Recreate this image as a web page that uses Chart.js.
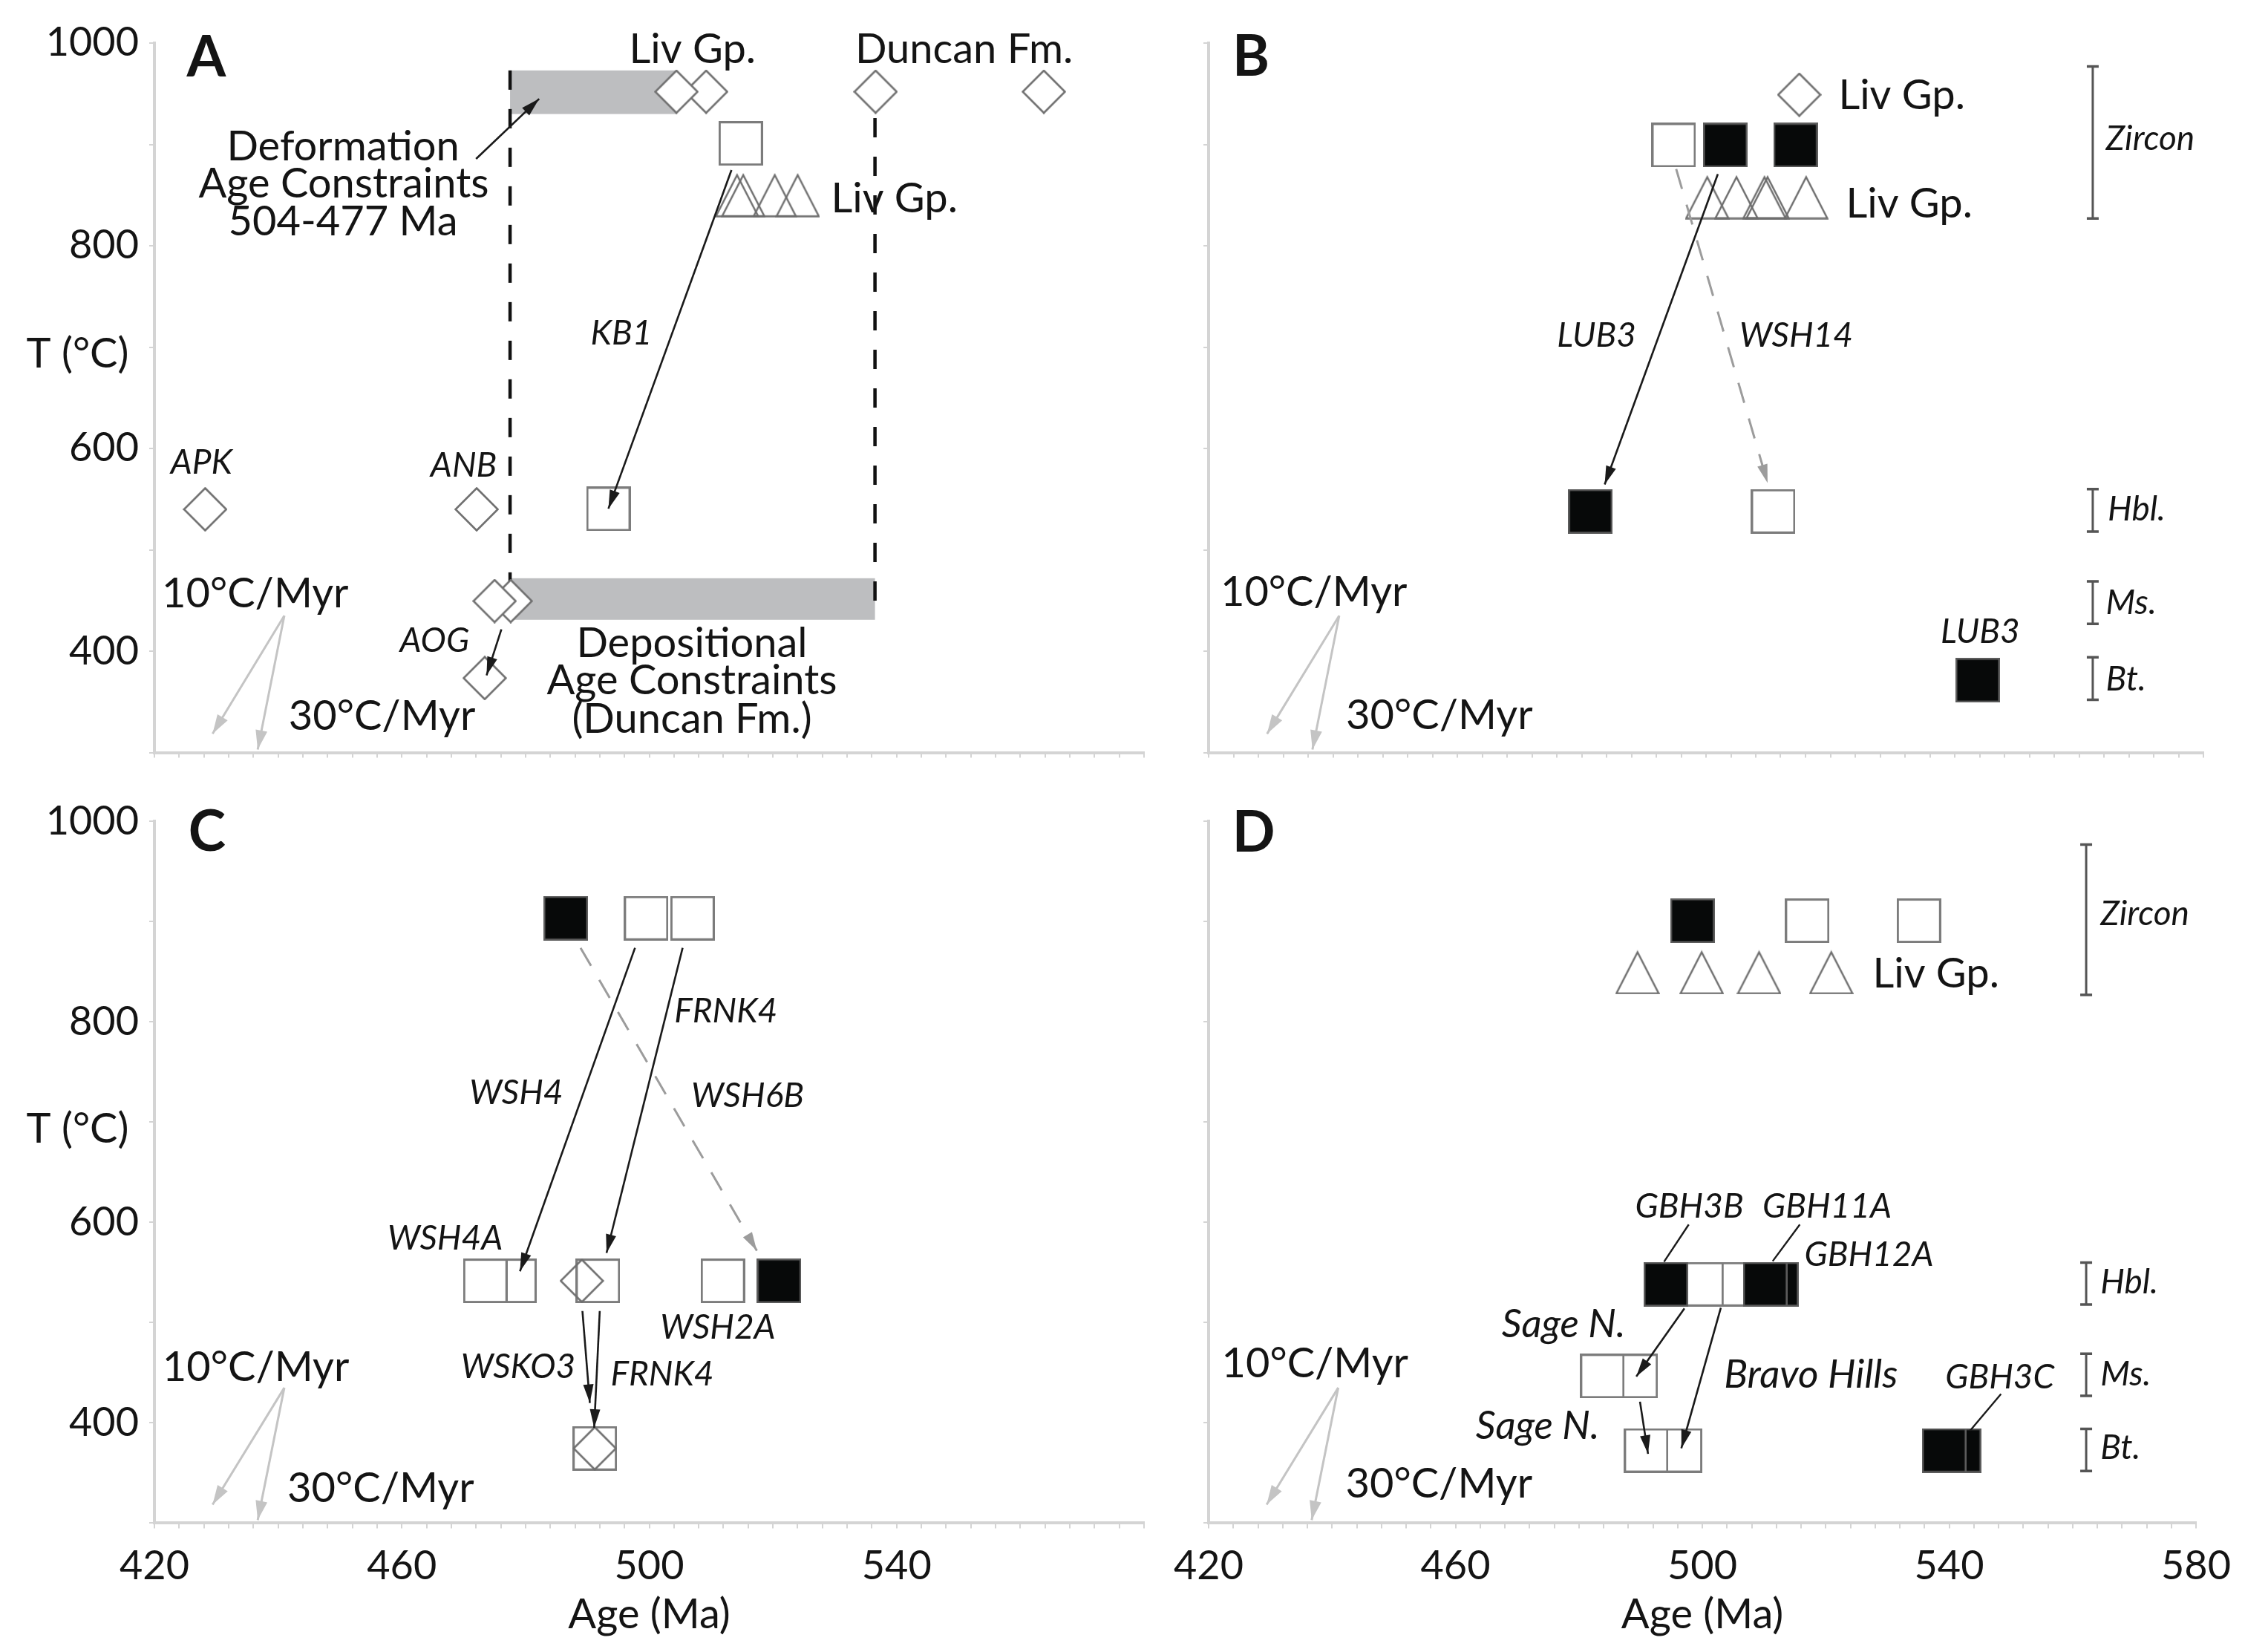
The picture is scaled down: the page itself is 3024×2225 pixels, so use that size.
<!DOCTYPE html>
<html><head><meta charset="utf-8">
<script src="https://cdn.jsdelivr.net/npm/chart.js@4.4.1/dist/chart.umd.min.js"></script>
<style>
html,body{margin:0;padding:0;background:#fff;width:3024px;height:2225px;overflow:hidden}
canvas{position:absolute}
</style></head><body>
<canvas id="cA" width="1560" height="1060" style="left:0;top:0"></canvas>
<canvas id="cB" width="1464" height="1060" style="left:1560px;top:0"></canvas>
<canvas id="cC" width="1560" height="1165" style="left:0;top:1060px"></canvas>
<canvas id="cD" width="1464" height="1165" style="left:1560px;top:1060px"></canvas>
<script>
// ---------------- axes ----------------
const X_MIN = 420, X_MAX = 580, Y_MIN = 300, Y_MAX = 1000;
const xTickStep = 4, yTickStep = 100;
const xLabelValues = [420, 460, 500, 540, 580];
const xLabelValuesC = [420, 460, 500, 540];
const yLabelValues = [1000, 800, 600, 400];

// ---------------- shared: cooling-rate reference arrows ----------------
const coolOrigin = [441, 435];
const cool10End = [429.4, 318.5];
const cool30End = [436.7, 303];

// ---------------- mineral closure ranges (B, D) ----------------
const rangeX = 562.2;
const zirconRange = [827, 977];
const hblRange = [518, 560];
const msRange = [427, 469];
const btRange = [352, 394];

// ---------------- Panel A ----------------
const aDiamonds = [[509.2, 952], [504.4, 952], [536.6, 952], [563.8, 952], [428.2, 540], [472.1, 540], [477.6, 449.5], [475.0, 449.5], [473.4, 373.5]];
const aOpenSquares = [[514.8, 901], [493.4, 540.4]];
const aTriangles = [[514.2, 850], [515.2, 850], [520.3, 850], [524.0, 850]];
const aKB1Path = [[513.3, 874.7], [493.4, 540.6]];
const aAOGPath = [[476.1, 421.6], [473.7, 376.2]];
const aDeformPointer = [[472.0, 885.7], [482.2, 945]];
const aDeformBand = [477.5, 504.4, 930, 973];
const aDepositBand = [477.5, 536.5, 431, 472];
const aDeformLine = [[477.5, 973], [477.5, 431]];
const aDepositLine = [[536.5, 926], [536.5, 431]];

// ---------------- Panel B ----------------
const bDiamonds = [[515.0, 949]];
const bOpenSquares = [[494.8, 899.3], [510.8, 538]];
const bFilledSquares = [[503.1, 899.3], [514.4, 899.3], [481.4, 538], [543.7, 371.4]];
const bTriangles = [[500.2, 848], [504.9, 848], [509.4, 848], [509.9, 848], [516.1, 848]];
const bLUB3Path = [[501.9, 870.7], [483.7, 564.5]];
const bWSH14Path = [[495.2, 875.8], [509.9, 566]];

// ---------------- Panel C ----------------
const cOpenSquares = [[499.5, 903.5], [507.0, 903.5], [478.2, 541.7], [473.5, 541.7], [491.7, 541.7], [511.9, 541.7], [491.2, 374.6]];
const cFilledSquares = [[486.5, 903.5], [521.0, 541.7]];
const cDiamonds = [[489.1, 541.7], [491.2, 374.6]];
const cWSH4Path = [[497.7, 873.9], [479.1, 551.2]];
const cFRNK4Path = [[505.4, 873.9], [493.1, 569.6]];
const cWSH6BPath = [[488.9, 873.9], [517.4, 571.8]];
const cWSKO3Path = [[489.2, 511.6], [490.4, 419.9]];
const cFRNK4LowPath = [[492.0, 511.6], [491.1, 395.1]];

// ---------------- Panel D ----------------
const dOpenSquares = [[517.0, 901], [535.1, 901], [500.9, 538.3], [506.7, 538.3], [489.2, 446.7], [483.8, 446.7], [496.4, 372.5], [490.9, 372.5]];
const dFilledSquares = [[498.4, 901], [494.1, 538.3], [512.0, 538.3], [510.2, 538.3], [541.6, 372.5], [539.2, 372.5]];
const dTriangles = [[489.5, 849.6], [499.9, 849.6], [509.2, 849.6], [520.9, 849.6]];
const dSageHblMsPath = [[497.1, 514.2], [489.3, 446.3]];
const dBravoHillsPath = [[503.0, 514.8], [496.6, 374.6]];
const dSageMsBtPath = [[489.9, 421.1], [491.2, 369.1]];
const dGBH3BLeader = [[497.8, 597.9], [493.8, 560.8]];
const dGBH11ALeader = [[515.8, 597.9], [511.4, 561.3]];
const dGBH3CLeader = [[548.4, 428.8], [543.4, 392.4]];

// ---------------- text annotations [text, age, T] ----------------
const aLetter = [['A', 428.4, 967]];
const aNotesCenter = [['Liv Gp.', 507.0, 980.5], ['Duncan Fm.', 550.9, 980.5], ['Deformation', 450.5, 884.6], ['Age Constraints', 450.6, 848], ['504-477 Ma', 450.5, 810.3], ['Depositional', 506.9, 394], ['Age Constraints', 506.9, 357.5], ['(Duncan Fm.)', 506.9, 319.8]];
const aNotesLeft = [['Liv Gp.', 529.4, 833], ['10°C/Myr', 421.2, 443.4], ['30°C/Myr', 441.7, 322.2], ['T (°C)', 399.3, 680]];
const aSamples = [['KB1', 495.5, 702.9], ['APK', 427.6, 574.8], ['ANB', 470.0, 572], ['AOG', 465.3, 399.2]];

const bLetter = [['B', 426.8, 968]];
const bNotesLeft = [['Liv Gp.', 521.3, 935.1], ['Liv Gp.', 522.5, 827.9], ['10°C/Myr', 421.9, 444.6], ['30°C/Myr', 442.1, 323.5]];
const bSamples = [['LUB3', 482.4, 700.4], ['WSH14', 514.5, 700.5], ['LUB3', 544.1, 408]];
const bMinerals = [['Zircon', 564.3, 894.7], ['Hbl.', 564.6, 529.2], ['Ms.', 564.3, 437], ['Bt.', 564.3, 361.4]];

const cLetter = [['C', 428.5, 970.7]];
const cNotesLeft = [['10°C/Myr', 421.3, 441.7], ['30°C/Myr', 441.5, 321.2], ['T (°C)', 399.3, 679.3]];
const cSamples = [['FRNK4', 512.4, 799.5], ['WSH4', 478.5, 718.3], ['WSH6B', 515.9, 715.4], ['WSH4A', 467.0, 573.1], ['WSH2A', 511.1, 484.2], ['WSKO3', 478.8, 444.4], ['FRNK4', 502.1, 437.6]];

const dLetter = [['D', 427.3, 970]];
const dNotesLeft = [['Liv Gp.', 527.6, 834.3], ['10°C/Myr', 422.1, 445.8], ['30°C/Myr', 442.2, 325.3]];
const dSamples = [['GBH3B', 497.9, 605], ['GBH11A', 520.2, 605], ['GBH12A', 527.0, 556.7], ['GBH3C', 548.2, 434.3]];
const dLocalities = [['Sage N.', 477.5, 485.5], ['Bravo Hills', 517.6, 434.8], ['Sage N.', 473.3, 384.2]];
const dMinerals = [['Zircon', 564.5, 896.8], ['Hbl.', 564.5, 529.3], ['Ms.', 564.5, 437.6], ['Bt.', 564.5, 363.7]];

// ================= rendering =================
const FONT = 'Lato, "Open Sans", sans-serif';
const F_BIG = '56px ' + FONT;
const F_ITAL = 'italic 46px ' + FONT;
const F_ITAL_BIG = 'italic 53px ' + FONT;
const F_LETTER = 'bold 76px ' + FONT;
const INK = '#141414';

function makeMarker(kind) {
  const S = 60;
  const c = document.createElement('canvas');
  c.width = S; c.height = S;
  const g = c.getContext('2d');
  if (kind === 'sqOpen') {
    g.fillStyle = '#fff'; g.fillRect(1.5, 1.5, S - 3, S - 3);
    g.strokeStyle = '#7c7c7c'; g.lineWidth = 3; g.strokeRect(1.5, 1.5, S - 3, S - 3);
  } else if (kind === 'sqFill') {
    g.fillStyle = '#070909'; g.fillRect(1, 1, S - 2, S - 2);
    g.strokeStyle = '#5c5c5c'; g.lineWidth = 2.5; g.strokeRect(1.25, 1.25, S - 2.5, S - 2.5);
  } else if (kind === 'diamond' || kind === 'diamondClear') {
    g.beginPath(); g.moveTo(S / 2, 1.5); g.lineTo(S - 1.5, S / 2); g.lineTo(S / 2, S - 1.5); g.lineTo(1.5, S / 2); g.closePath();
    if (kind === 'diamond') { g.fillStyle = '#fff'; g.fill(); }
    g.strokeStyle = '#6e6e6e'; g.lineWidth = 2.6; g.stroke();
  } else if (kind === 'tri') {
    g.beginPath(); g.moveTo(S / 2, 3); g.lineTo(S - 1.5, S - 1.5); g.lineTo(1.5, S - 1.5); g.closePath();
    g.strokeStyle = '#6e6e6e'; g.lineWidth = 2.5; g.stroke();
  }
  return c;
}

function pts(arr) { return arr.map(([x, y]) => ({x, y})); }
function markers(arr, img) {
  return {data: pts(arr), pointStyle: img, pointRadius: 12, pointHoverRadius: 12, showLine: false};
}
function path(arr, color, width, dash, head) {
  return {data: pts(arr), showLine: true, borderColor: color, borderWidth: width, borderDash: dash || [],
    pointRadius: 0, pointHoverRadius: 0, fill: false, tension: 0, arrow: head || null};
}
function rangeBar(r) {
  return {data: pts([[rangeX, r[1]], [rangeX, r[0]]]), showLine: true, borderColor: '#555', borderWidth: 3,
    pointStyle: 'line', pointRadius: 8, pointBorderWidth: 3.5, pointBorderColor: '#555', pointHoverRadius: 8};
}
const BLACK_HEAD = {len: 25, half: 7};
const GRAY_HEAD = {len: 26, half: 8};
function coolArrows() {
  return [
    path([coolOrigin, cool10End], '#c4c4c4', 3, null, GRAY_HEAD),
    path([coolOrigin, cool30End], '#c4c4c4', 3, null, GRAY_HEAD)
  ];
}

function annotPlugin(cfg) {
  return {
    id: 'annot',
    beforeDatasetsDraw(chart) {
      const {ctx, scales: {x, y}} = chart;
      ctx.save();
      ctx.fillStyle = '#bdbec0';
      (cfg.bands || []).forEach(b => {
        const x0 = x.getPixelForValue(b[0]), x1 = x.getPixelForValue(b[1]);
        const y0 = y.getPixelForValue(b[3]), y1 = y.getPixelForValue(b[2]);
        ctx.fillRect(x0, y0, x1 - x0, y1 - y0);
      });
      ctx.restore();
    },
    afterDatasetsDraw(chart) {
      const {ctx, scales: {x, y}} = chart;
      chart.data.datasets.forEach((ds, i) => {
        if (!ds.arrow) return;
        const meta = chart.getDatasetMeta(i);
        const n = meta.data.length;
        const p0 = meta.data[n - 2], p1 = meta.data[n - 1];
        const a = Math.atan2(p1.y - p0.y, p1.x - p0.x);
        const L = ds.arrow.len, W = ds.arrow.half;
        const bx = p1.x - L * Math.cos(a), by = p1.y - L * Math.sin(a);
        ctx.save();
        ctx.fillStyle = ds.borderColor;
        ctx.beginPath();
        ctx.moveTo(p1.x, p1.y);
        ctx.lineTo(bx + W * Math.sin(a), by - W * Math.cos(a));
        ctx.lineTo(bx - W * Math.sin(a), by + W * Math.cos(a));
        ctx.closePath(); ctx.fill();
        ctx.restore();
      });
      (cfg.text || []).forEach(grp => {
        ctx.save();
        ctx.font = grp.font; ctx.fillStyle = INK; ctx.textAlign = grp.align; ctx.textBaseline = 'alphabetic';
        grp.items.forEach(([t, vx, vy]) => ctx.fillText(t, x.getPixelForValue(vx), y.getPixelForValue(vy)));
        ctx.restore();
      });
    }
  };
}

function buildChart(id, cfg) {
  const layers = cfg.layers;
  layers.forEach((d, i) => { d.order = layers.length - i; });
  const gridOpt = {drawOnChartArea: false, drawTicks: true, tickLength: 7, color: '#d4d4d4', lineWidth: 2};
  const borderOpt = {display: true, color: '#d4d4d4', width: 4};
  const tickFont = {family: FONT, size: 54};
  return new Chart(document.getElementById(id), {
    type: 'scatter',
    data: {datasets: layers},
    options: {
      responsive: false, animation: false, devicePixelRatio: 1, events: [],
      layout: {autoPadding: false, padding: cfg.pad},
      plugins: {legend: {display: false}, tooltip: {enabled: false}},
      scales: {
        x: {
          type: 'linear', min: X_MIN, max: X_MAX,
          afterFit: s => { s.height = cfg.xh; },
          ticks: {stepSize: xTickStep, autoSkip: false, maxRotation: 0, padding: 19, color: INK, font: tickFont,
            callback: v => (cfg.xLabels && cfg.xLabels.includes(v)) ? String(v) : ''},
          grid: gridOpt, border: borderOpt,
          title: cfg.xTitle ? {display: true, text: 'Age (Ma)', color: INK, font: {family: FONT, size: 56}, padding: {top: 0, bottom: 16}} : {display: false}
        },
        y: {
          type: 'linear', min: Y_MIN, max: Y_MAX,
          afterFit: s => { s.width = cfg.yw; },
          ticks: {stepSize: yTickStep, autoSkip: false, padding: 14, color: INK, font: tickFont,
            callback: v => (cfg.yLabels && yLabelValues.includes(v)) ? String(v) : ''},
          grid: gridOpt, border: borderOpt
        }
      }
    },
    plugins: [annotPlugin(cfg)]
  });
}

function draw() {
  const M = {sqOpen: makeMarker('sqOpen'), sqFill: makeMarker('sqFill'), diamond: makeMarker('diamond'),
    diamondClear: makeMarker('diamondClear'), tri: makeMarker('tri')};

  // Panel A
  buildChart('cA', {
    pad: {left: 0, right: 17, top: 58, bottom: 0}, yw: 208, xh: 46, yLabels: true, xLabels: null,
    bands: [aDeformBand, aDepositBand],
    layers: [
      path(aDeformLine, '#111', 4.5, [26, 26]),
      path(aDepositLine, '#111', 4.5, [26, 26]),
      markers(aTriangles, M.tri),
      markers(aOpenSquares, M.sqOpen),
      markers(aDiamonds, M.diamond),
      path(aKB1Path, '#1a1a1a', 2.6, null, BLACK_HEAD),
      path(aAOGPath, '#1a1a1a', 2.6, null, BLACK_HEAD),
      path(aDeformPointer, '#1a1a1a', 2.6, null, BLACK_HEAD),
      ...coolArrows()
    ],
    text: [
      {font: F_LETTER, align: 'center', items: aLetter},
      {font: F_BIG, align: 'center', items: aNotesCenter},
      {font: F_BIG, align: 'left', items: aNotesLeft},
      {font: F_ITAL, align: 'center', items: aSamples}
    ]
  });

  // Panel B
  buildChart('cB', {
    pad: {left: 0, right: 56, top: 58, bottom: 0}, yw: 68, xh: 46, yLabels: false, xLabels: null,
    layers: [
      markers(bTriangles, M.tri),
      markers(bOpenSquares, M.sqOpen),
      markers(bFilledSquares, M.sqFill),
      markers(bDiamonds, M.diamond),
      rangeBar(zirconRange), rangeBar(hblRange), rangeBar(msRange), rangeBar(btRange),
      path(bWSH14Path, '#9c9c9c', 3, [28, 22], BLACK_HEAD),
      path(bLUB3Path, '#1a1a1a', 2.6, null, BLACK_HEAD),
      ...coolArrows()
    ],
    text: [
      {font: F_LETTER, align: 'center', items: bLetter},
      {font: F_BIG, align: 'left', items: bNotesLeft},
      {font: F_ITAL, align: 'center', items: bSamples},
      {font: F_ITAL, align: 'left', items: bMinerals}
    ]
  });

  // Panel C
  buildChart('cC', {
    pad: {left: 0, right: 17, top: 37, bottom: 0}, yw: 208, xh: 173.6, yLabels: true, xLabels: xLabelValuesC, xTitle: true,
    layers: [
      markers(cOpenSquares, M.sqOpen),
      markers(cFilledSquares, M.sqFill),
      markers(cDiamonds, M.diamondClear),
      path(cWSH6BPath, '#9c9c9c', 3, [28, 22], BLACK_HEAD),
      path(cWSH4Path, '#1a1a1a', 2.6, null, BLACK_HEAD),
      path(cFRNK4Path, '#1a1a1a', 2.6, null, BLACK_HEAD),
      path(cWSKO3Path, '#1a1a1a', 2.6, null, BLACK_HEAD),
      path(cFRNK4LowPath, '#1a1a1a', 2.6, null, BLACK_HEAD),
      ...coolArrows()
    ],
    text: [
      {font: F_LETTER, align: 'center', items: cLetter},
      {font: F_BIG, align: 'left', items: cNotesLeft},
      {font: F_ITAL, align: 'center', items: cSamples}
    ]
  });

  // Panel D
  buildChart('cD', {
    pad: {left: 0, right: 56, top: 37, bottom: 0}, yw: 68, xh: 173.6, yLabels: false, xLabels: xLabelValues, xTitle: true,
    layers: [
      markers(dTriangles, M.tri),
      markers(dOpenSquares, M.sqOpen),
      markers(dFilledSquares, M.sqFill),
      rangeBar(zirconRange), rangeBar(hblRange), rangeBar(msRange), rangeBar(btRange),
      path(dSageHblMsPath, '#1a1a1a', 2.6, null, BLACK_HEAD),
      path(dBravoHillsPath, '#1a1a1a', 2.6, null, BLACK_HEAD),
      path(dSageMsBtPath, '#1a1a1a', 2.6, null, BLACK_HEAD),
      path(dGBH3BLeader, '#1a1a1a', 2.4),
      path(dGBH11ALeader, '#1a1a1a', 2.4),
      path(dGBH3CLeader, '#1a1a1a', 2.4),
      ...coolArrows()
    ],
    text: [
      {font: F_LETTER, align: 'center', items: dLetter},
      {font: F_BIG, align: 'left', items: dNotesLeft},
      {font: F_ITAL, align: 'center', items: dSamples},
      {font: F_ITAL_BIG, align: 'center', items: dLocalities},
      {font: F_ITAL, align: 'left', items: dMinerals}
    ]
  });
}

const fontLoads = ['56px Lato', 'italic 46px Lato', 'bold 76px Lato'].map(f => document.fonts.load(f).catch(() => null));
Promise.all(fontLoads).then(draw, draw);
</script>
</body></html>
